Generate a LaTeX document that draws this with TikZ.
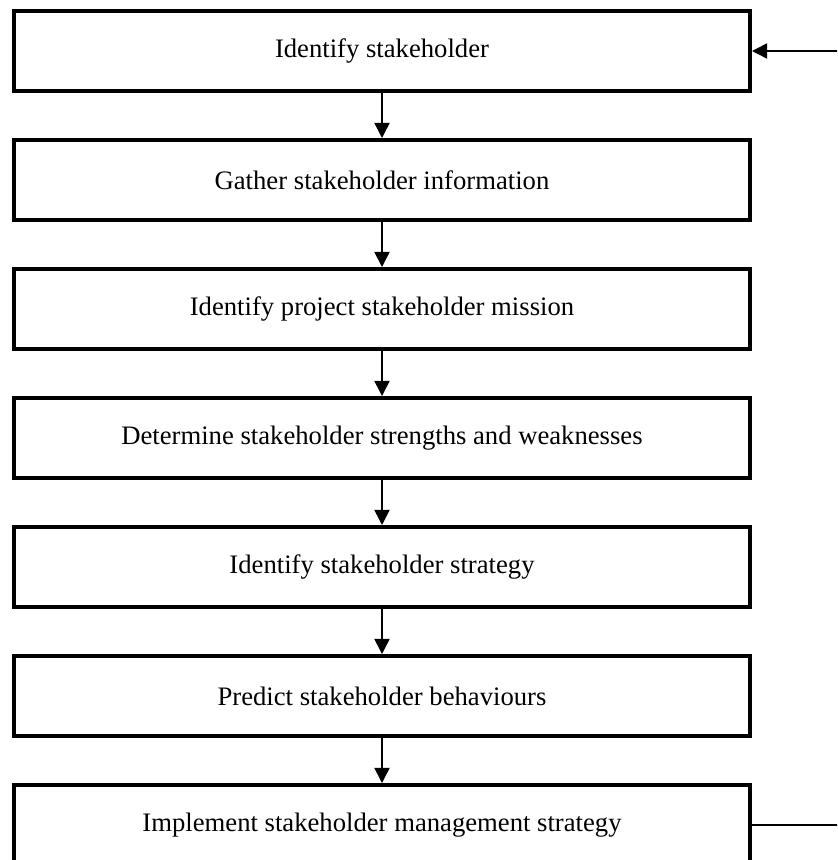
\documentclass[tikz,border=0pt]{standalone}
\usepackage{fontspec}
\setmainfont{Liberation Serif}
\usetikzlibrary{positioning,arrows.meta}

\begin{document}
\begin{tikzpicture}[x=0.45pt,y=-0.45pt,node distance=20.25pt]
\tikzstyle{every node}+=[font=\fontsize{12}{14}\selectfont]
\tikzstyle{stepbox}=[draw=black, line width=1.6pt, minimum width=331.4pt, minimum height=36.2pt, inner sep=0pt]
\tikzstyle{flow}=[black, line width=0.7pt, -{Triangle[length=6.8pt,width=6.8pt]}]
\tikzstyle{back}=[black, line width=0.7pt]
\clip (0,0) rectangle (837,860);
% the steps
\node [stepbox] (ident) at (382,51) {Identify stakeholder};
\node [stepbox, below=of ident] (gather) {Gather stakeholder information};
\node [stepbox, below=of gather] (mission) {Identify project stakeholder mission};
\node [stepbox, below=of mission] (swot) {Determine stakeholder strengths and weaknesses};
\node [stepbox, below=of swot] (strat) {Identify stakeholder strategy};
\node [stepbox, below=of strat] (predict) {Predict stakeholder behaviours};
\node [stepbox, below=of predict] (impl) {Implement stakeholder management strategy};
% arrows down
\draw [flow] (ident) -- (gather);
\draw [flow] (gather) -- (mission);
\draw [flow] (mission) -- (swot);
\draw [flow] (swot) -- (strat);
\draw [flow] (strat) -- (predict);
\draw [flow] (predict) -- (impl);
% loop back
\coordinate (fbin) at ([xshift=40pt]ident.east);
\coordinate (fbout) at ([xshift=40pt]impl.east);
\draw [flow] (fbin) -- (ident.east);
\draw [back] (impl.east) -- (fbout);
\end{tikzpicture}
\end{document}
